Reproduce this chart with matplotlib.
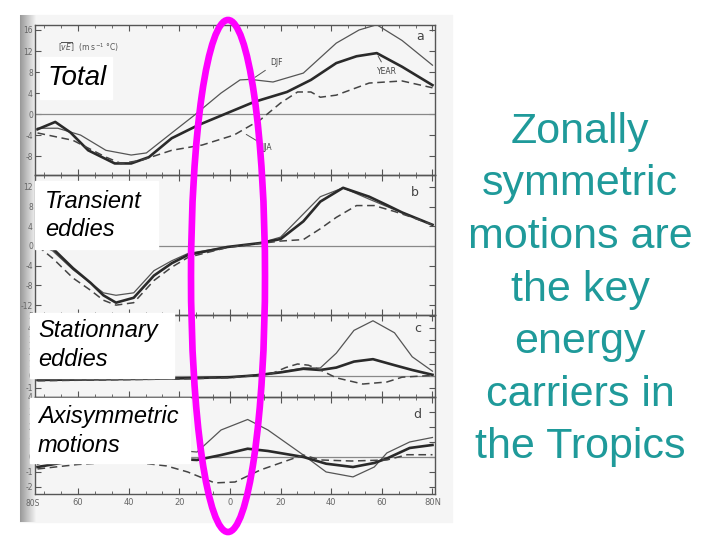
import numpy as np
import matplotlib.pyplot as plt
from matplotlib.patches import Ellipse, Rectangle
from matplotlib.ticker import MultipleLocator

W, H = 720, 540

# ---- panel a: total [vE] ----
lat_a_djf = [-76, -68, -59, -49, -39, -33, -23, -14, -3.5, 4, 8, 17, 29, 42, 51, 58, 68, 80]
a_djf = [-2.7, -2.7, -4.0, -6.9, -7.8, -7.4, -3.6, -0.2, 4.0, 6.5, 6.6, 6.1, 7.8, 13.5, 16.0, 17.0, 14.0, 9.3]
lat_a_year = [-76, -69, -63, -56, -45.5, -39, -32, -23, -12.5, -1, 9.5, 22.5, 32, 42, 50, 58, 68, 80]
a_year = [-2.9, -1.5, -3.5, -6.9, -9.4, -9.4, -8.2, -4.6, -2.1, 0.2, 2.3, 4.2, 6.5, 9.7, 11.0, 11.6, 9.0, 5.5]
lat_a_jja = [-76, -62, -49, -43, -35, -23, -11, 1.6, 12, 20, 26.7, 32, 35.7, 42, 55, 68, 80]
a_jja = [-3.6, -5.0, -8.2, -9.4, -8.8, -6.9, -5.9, -4.0, -1.1, 2.1, 4.2, 4.2, 3.2, 3.6, 5.9, 6.3, 5.0]

# ---- panel b: transient eddies ----
lat_b = [-76, -70, -62, -55, -50, -45, -38, -30, -23, -16.5, -1, 12, 20, 29, 35.7, 44.7, 55, 62, 68, 80]
b_year = [1.0, -0.5, -4.5, -7.5, -10.0, -11.5, -10.5, -6.0, -3.5, -1.8, -0.2, 0.6, 1.4, 5.0, 9.0, 11.8, 10.0, 8.3, 6.8, 4.3]
b_djf = [0.5, -1.0, -4.8, -7.5, -9.5, -10.0, -9.5, -5.0, -3.0, -1.5, -0.2, 0.6, 1.8, 6.5, 10.0, 11.8, 9.5, 8.0, 6.8, 4.3]
lat_b_jja = [-76, -70, -62, -55, -50, -45, -38, -30, -23, -16.5, -1, 12, 20, 29, 35.7, 42, 50, 57, 65, 72, 80]
b_jja = [0.0, -2.5, -6.5, -9.0, -11.0, -12.0, -11.5, -7.0, -4.3, -2.3, -0.3, 0.5, 1.0, 1.3, 3.5, 5.8, 8.2, 8.2, 7.0, 5.8, 4.3]

# ---- panel c: stationary eddies ----
lat_c = [-76, -40, -20, 0, 10, 20, 29, 35.7, 42, 49, 56.5, 65, 72, 80]
c_djf = [-0.33, -0.25, -0.17, -0.08, 0.08, 0.33, 0.67, 0.67, 1.9, 3.8, 4.6, 3.6, 1.6, 0.4]
c_year = [-0.33, -0.25, -0.2, -0.1, 0.05, 0.3, 0.6, 0.5, 0.7, 1.2, 1.4, 0.9, 0.5, 0.1]
lat_c_jja = [-76, -40, -20, 0, 16, 22, 26.7, 31, 35.7, 42, 52.5, 62, 68, 80]
c_jja = [-0.4, -0.3, -0.25, -0.15, 0.15, 0.7, 1.0, 0.9, 0.5, -0.15, -0.67, -0.5, -0.1, 0.05]

# ---- panel d: axisymmetric motions ----
lat_d = [-76, -60, -40, -25, -13, -3.5, 7, 15, 29, 38, 48.6, 57, 62, 71, 80]
d_djf = [-0.5, 0.5, 0.8, 0.5, 0.33, 1.8, 2.5, 1.8, 0.13, -1.0, -1.33, -0.67, 0.27, 1.0, 1.3]
d_year = [-0.67, -0.2, 0.1, -0.1, -0.2, 0.13, 0.55, 0.4, 0.0, -0.45, -0.67, -0.4, -0.1, 0.6, 0.8]
lat_d_jja = [-76, -60, -40, -25, -16.7, -6, 2, 12, 25, 29, 35.7, 48, 62, 70, 80]
d_jja = [-0.8, -0.5, -0.3, -0.6, -1.0, -1.73, -1.67, -0.87, -0.1, 0.13, -0.2, -0.27, -0.2, 0.15, 0.15]

xtick_pos = [-60, -40, -20, 0, 20, 40, 60, 80]
xtick_lab = ['60', '40', '20', '0', '20', '40', '60', '80N']

message = ['Zonally', 'symmetric', 'motions are', 'the key',
           'energy', 'carriers in', 'the Tropics']


def fx(x):
    return x / W


def fy(y):
    return 1 - y / H


fig = plt.figure(figsize=(7.2, 5.4), dpi=100)


def px_axes(x0, y0, x1, y1, z=0):
    return fig.add_axes([fx(x0), fy(y1), (x1 - x0) / W, (y1 - y0) / H], zorder=z)


# scanned page background with darker binding edge
fig.add_artist(Rectangle((fx(20), fy(522)), 432 / W, 507 / H, transform=fig.transFigure,
                         color='#f5f5f5', zorder=-5))
ax_g = px_axes(20, 15, 36, 522, z=-4)
ax_g.imshow(np.linspace(0.6, 0.95, 32)[None, :], cmap='gray', vmin=0, vmax=1, aspect='auto')
ax_g.axis('off')

line_col = '#2a2a2a'
frame_col = '#555555'

panels = [
    (25, 175, (-11.6, 16.95), [-8, -4, 0, 4, 8, 12, 16]),
    (175, 315, (-14.0, 14.4), [-12, -8, -4, 0, 4, 8, 12]),
    (315, 397, (-1.75, 5.08), [-1, 0, 1, 2, 3, 4, 5]),
    (397, 494, (-2.47, 4.0), [-2, -1, 0, 1, 2, 3, 4]),
]
series = [
    ((lat_a_djf, a_djf), (lat_a_year, a_year), (lat_a_jja, a_jja)),
    ((lat_b, b_djf), (lat_b, b_year), (lat_b_jja, b_jja)),
    ((lat_c, c_djf), (lat_c, c_year), (lat_c_jja, c_jja)),
    ((lat_d, d_djf), (lat_d, d_year), (lat_d_jja, d_jja)),
]

axes = []
for (top, bot, ylim, yt), (djf, year, jja) in zip(panels, series):
    ax = px_axes(35, top, 435, bot)
    ax.set_facecolor('none')
    ax.set_xlim(-77, 81)
    ax.set_ylim(*ylim)
    ax.axhline(0, color='#888888', lw=0.9)
    ax.plot(*djf, color='#555555', lw=0.9)
    ax.plot(*year, color=line_col, lw=1.9)
    ax.plot(*jja, color='#444444', lw=1.1, dashes=(5, 3))
    ax.set_yticks(yt)
    ax.set_yticklabels([str(v) for v in yt])
    ax.xaxis.set_major_locator(MultipleLocator(20))
    ax.xaxis.set_minor_locator(MultipleLocator(20 / 3))
    ax.tick_params(axis='both', which='both', direction='in', top=True, right=True,
                   color=frame_col, labelsize=5.5, labelcolor='#666666', pad=1.5)
    ax.tick_params(which='major', length=4)
    ax.tick_params(which='minor', length=2.5)
    ax.tick_params(axis='x', labelbottom=False)
    for s in ax.spines.values():
        s.set_color(frame_col)
        s.set_linewidth(1.0)
    axes.append(ax)

ax_d = axes[3]
ax_d.set_xticks(xtick_pos)
ax_d.set_xticklabels(xtick_lab)
ax_d.tick_params(axis='x', labelbottom=True, labelsize=6, pad=3)
fig.text(fx(33), fy(503), '80S', fontsize=5.5, color='#666666', ha='center', va='center')

# panel a annotations
ax_a = axes[0]
ax_a.text(-68, 12.8, r'$[\overline{vE}]$  (m s$^{-1}$ °C)', fontsize=5.5, color='#555555', va='center')
ax_a.annotate('DJF', xy=(9, 6.7), xytext=(16, 9.3), fontsize=5.5, color='#444444',
              arrowprops=dict(arrowstyle='-', color='#555555', lw=0.7))
ax_a.annotate('YEAR', xy=(58, 11.5), xytext=(58, 7.6), fontsize=5.5, color='#444444',
              arrowprops=dict(arrowstyle='-', color='#555555', lw=0.7))
ax_a.annotate('JJA', xy=(5.5, -3.6), xytext=(13, -6.8), fontsize=5.5, color='#444444',
              arrowprops=dict(arrowstyle='-', color='#555555', lw=0.7))
for lab, (x, y) in zip('abcd', [(420, 36), (415, 192), (418, 329), (417, 414)]):
    fig.text(fx(x), fy(y), lab, fontsize=9, color='#444444', ha='center', va='center')

# white label boxes pasted over the scan
boxes = [
    ((40, 57, 112, 99), ['Total'], 20, 47, [78]),
    ((35, 181, 158, 249), ['Transient', 'eddies'], 17, 45, [201, 230]),
    ((30, 313, 174, 378), ['Stationnary', 'eddies'], 17, 38, [331, 360]),
    ((30, 398, 190, 463), ['Axisymmetric', 'motions'], 17, 38, [416, 445]),
]
for (x0, y0, x1, y1), lines, fs, tx, tys in boxes:
    fig.add_artist(Rectangle((fx(x0), fy(y1)), (x1 - x0) / W, (y1 - y0) / H,
                             transform=fig.transFigure, color='white', zorder=5))
    for s, ty in zip(lines, tys):
        fig.text(fx(tx), fy(ty), s, fontsize=fs, style='italic', family='Liberation Sans',
                 ha='left', va='center', zorder=6)

# magenta ellipse around the tropics
fig.add_artist(Ellipse((fx(228), fy(276)), 74 / W, 512 / H, transform=fig.transFigure,
                       fill=False, edgecolor='#ff00ff', lw=4.8, zorder=10))

# message on the right
for i, s in enumerate(message):
    fig.text(fx(580), fy(132 + 52.5 * i), s, fontsize=31, family='Liberation Sans',
             color='#1f9a9a', ha='center', va='center')

fig.savefig('out.png', dpi=100)
